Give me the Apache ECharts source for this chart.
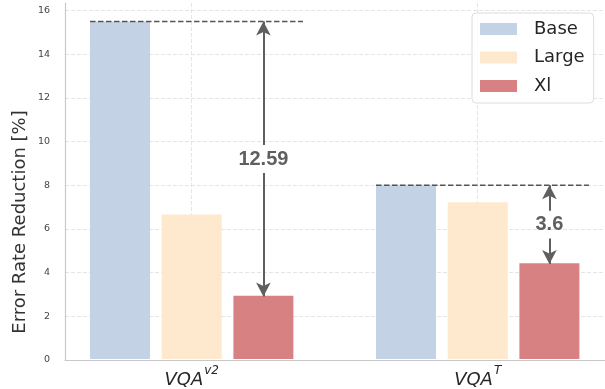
<!DOCTYPE html>
<html>
<head>
<meta charset="utf-8">
<script src="https://cdn.jsdelivr.net/npm/echarts@6/dist/echarts.min.js"></script>
<style>
  html, body { margin: 0; padding: 0; background: #fff; }
  #chart { width: 605px; height: 389px; }
</style>
</head>
<body>
<div id="chart"></div>
<script>
// data
var categories = ['VQA^v2', 'VQA^T'];
var seriesNames = ['Base', 'Large', 'Xl'];
var baseValues = [15.5, 8.0];
var largeValues = [6.64, 7.2];
var xlValues = [2.91, 4.4];
var yMax = 16;
var yStep = 2;
var yTop = 16.35;   // axes run a little past the last tick

var colors = ['#c4d2e5', '#fee9cf', '#d88183'];
var gridLine = { color: '#dedede', width: 0.8, type: [4, 2] };
var annoColor = '#5f5f5f';

var chart = echarts.init(document.getElementById('chart'));

// offsets in category units (one category = 286px, bar 60px, gap 11.7px)
var edgeOff = -0.3556;   // left edge of Base bar
var dashEnd = 0.389;     // right end of dashed reference line
var arrowOff = 0.2507;   // centre of the Xl bar
var gapHalf = 0.64;      // room kept round the arrow text
// notes grid spans the whole plot: category 0 sits at 191.7px, 286px per category
var noteMin = -126.7 / 286;
var noteMax = noteMin + 540 / 286;

var dashSeries = [];
var diffLabels = [];
categories.forEach(function (c, i) {
    var top = baseValues[i], bottom = xlValues[i];
    var mid = (top + bottom) / 2;
    var x = i + arrowOff;
    var diff = Math.round((top - bottom) * 100) / 100;
    diffLabels.push([x, mid, diff]);
    dashSeries.push({
        type: 'line',
        xAxisIndex: 3,
        yAxisIndex: 3,
        silent: true,
        symbol: 'none',
        z: 5,
        lineStyle: { color: '#555', width: 1.5, type: [5.5, 2.5] },
        data: [[i + edgeOff, top], [i + dashEnd, top]],
        markLine: {
            silent: true,
            symbol: ['none', 'arrow'],
            symbolSize: [11, 14],
            label: { show: false },
            lineStyle: { color: annoColor, width: 2, type: 'solid' },
            data: [
                [{ coord: [x, mid + gapHalf] }, { coord: [x, top] }],
                [{ coord: [x, mid - gapHalf] }, { coord: [x, bottom] }]
            ]
        }
    });
});

var barSeries = [baseValues, largeValues, xlValues].map(function (vals, k) {
    return {
        name: seriesNames[k],
        type: 'bar',
        xAxisIndex: 2,
        yAxisIndex: 2,
        clip: false,
        barWidth: 60,
        barGap: '19.5%',
        itemStyle: { color: colors[k] },
        data: vals
    };
});

var option = {
    animation: false,
    textStyle: { fontFamily: 'DejaVu Sans' },
    grid: [
        { left: 65, right: 0, top: 3, bottom: 29 },          // frame
        { left: 65, right: 0, top: 10.7, bottom: 29 },       // y ticks + grid
        { left: 191.7, width: 286, top: 3, bottom: 29 },     // bars, x labels + grid
        { left: 65, right: 0, top: 10.7, bottom: 29 }        // notes
    ],
    xAxis: [
        { gridIndex: 0, type: 'category', data: categories,
          axisLine: { lineStyle: { color: '#c8c8c8', width: 1.2 } },
          axisTick: { show: false }, axisLabel: { show: false }, splitLine: { show: false } },
        { gridIndex: 1, type: 'category', data: categories, show: false },
        { gridIndex: 2, type: 'category', data: categories, boundaryGap: false,
          axisLine: { show: false }, axisTick: { show: false },
          splitLine: { show: true, lineStyle: gridLine },
          axisLabel: {
              margin: 6,
              formatter: function (v) {
                  var p = v.split('^');
                  return '{m|' + p[0] + '}{s|' + p[1] + '}';
              },
              rich: {
                  m: { fontFamily: 'DejaVu Sans', fontStyle: 'italic', fontSize: 18, color: '#262626', lineHeight: 24, verticalAlign: 'bottom' },
                  s: { fontFamily: 'DejaVu Sans', fontStyle: 'italic', fontSize: 12, color: '#262626', lineHeight: 24, verticalAlign: 'top', padding: [0, 0, 0, 1] }
              }
          } },
        { gridIndex: 3, type: 'value', min: noteMin, max: noteMax, show: false }
    ],
    yAxis: [
        { gridIndex: 0, type: 'value', min: 0, max: yTop,
          axisLine: { show: true, lineStyle: { color: '#c8c8c8', width: 1.2 } },
          axisTick: { show: false }, axisLabel: { show: false }, splitLine: { show: false } },
        { gridIndex: 1, type: 'value', min: 0, max: yMax, interval: yStep,
          axisLine: { show: false }, axisTick: { show: false },
          axisLabel: { margin: 15, fontSize: 9.5, color: '#444', fontFamily: 'DejaVu Sans' },
          splitLine: { show: true, lineStyle: gridLine } },
        { gridIndex: 2, type: 'value', min: 0, max: yTop, show: false },
        { gridIndex: 3, type: 'value', min: 0, max: yMax, show: false }
    ],
    legend: {
        data: seriesNames,
        orient: 'vertical',
        left: 472,
        top: 13,
        icon: 'rect',
        itemWidth: 37,
        itemHeight: 12,
        itemGap: 10.5,
        padding: [7, 9, 8, 8],
        backgroundColor: 'rgba(255,255,255,0.85)',
        borderColor: '#dcdcdc',
        borderWidth: 1,
        borderRadius: 4,
        textStyle: { fontFamily: 'DejaVu Sans', fontSize: 18, color: '#262626', lineHeight: 18, padding: [0, 0, 0, 12] }
    },
    graphic: [{
        type: 'text',
        x: 20.5,
        y: 222,
        rotation: Math.PI / 2,
        style: {
            text: 'Error Rate Reduction [%]',
            fontFamily: 'DejaVu Sans',
            fontSize: 18,
            fill: '#333',
            align: 'center',
            verticalAlign: 'middle'
        }
    }],
    series: barSeries.concat(dashSeries).concat([{
        type: 'scatter',
        xAxisIndex: 3,
        yAxisIndex: 3,
        silent: true,
        symbolSize: 0,
        z: 6,
        label: {
            show: true,
            position: 'inside',
            formatter: function (p) { return String(p.data[2]); },
            fontFamily: 'Liberation Sans',
            fontWeight: 'bold',
            fontSize: 20,
            color: annoColor,
            opacity: 1,
            textBorderWidth: 0
        },
        data: diffLabels
    }])
};

chart.setOption(option);
</script>
</body>
</html>
